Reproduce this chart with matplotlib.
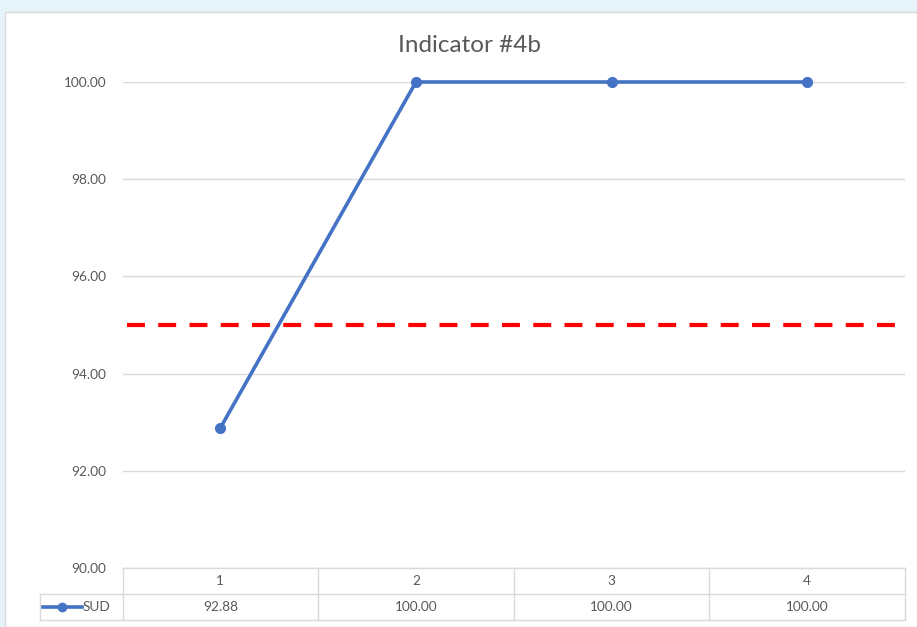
import matplotlib
matplotlib.use("Agg")
import matplotlib.pyplot as plt
from matplotlib.patches import Rectangle
from matplotlib.lines import Line2D

categories = ["1", "2", "3", "4"]
series_name = "SUD"
values = [92.88, 100.00, 100.00, 100.00]
target = 95.0
yticks = [90, 92, 94, 96, 98, 100]
title = "Indicator #4b"

W, H = 917, 627
fig = plt.figure(figsize=(W / 100, H / 100), dpi=100)
fig.patch.set_facecolor("#e6f4fa")

def fx(px):
    return px / W

def fy(py):
    return 1 - py / H

# white chart area
fig.patches.append(Rectangle((fx(5), 0), 1 - fx(5), fy(12), transform=fig.transFigure,
                             facecolor="white", edgecolor="#d9d9d9", linewidth=1.0, zorder=-5))

grey = "#595959"
font = "Lato"

left, right, top, bottom = 122.5, 905, 82, 568
ax = fig.add_axes([fx(left), fy(bottom), fx(right) - fx(left), fy(top) - fy(bottom)])
ax.set_zorder(1)
ax.set_facecolor("none")
x = list(range(len(categories)))
ax.set_xlim(-0.5, len(categories) - 0.5)
ax.set_ylim(90, 100)
ax.set_yticks(yticks)
ax.set_yticklabels([f"{v:.2f}" for v in yticks], fontsize=9.8, color=grey, family=font)
ax.tick_params(axis="y", length=0, pad=11.5)
ax.set_xticks([])
for s in ax.spines.values():
    s.set_visible(False)
ax.grid(axis="y", color="#d9d9d9", linewidth=1.0)
ax.set_axisbelow(True)

ax.axhline(target, xmin=0.006, xmax=0.992, color="#ff0000", linewidth=3.0,
           linestyle=(0, (4.3, 3.2)), zorder=2)
ax.plot(x, values, color="#4472c4", linewidth=2.6, marker="o", markersize=7,
        clip_on=False, zorder=3)

fig.text(fx(470), fy(45), title, ha="center", va="center", fontsize=17.5, color=grey,
         family=font)

# data table
tcolor = "#d9d9d9"
row1_top, row1_bot, row2_bot = 568, 594, 620
tab_left = 40
col_edges = [left + i * (right - left) / len(categories) for i in range(len(categories) + 1)]

def hline(y, x0, x1):
    fig.add_artist(Line2D([fx(x0), fx(x1)], [fy(y), fy(y)], color=tcolor, linewidth=1.0))

def vline(xp, y0, y1):
    fig.add_artist(Line2D([fx(xp), fx(xp)], [fy(y0), fy(y1)], color=tcolor, linewidth=1.0))

hline(row1_top, left, right)
hline(row1_bot, tab_left, right)
hline(row2_bot, tab_left, right)
vline(tab_left, row1_bot, row2_bot)
for i, xe in enumerate(col_edges):
    vline(xe, row1_top, row2_bot)

for i, cat in enumerate(categories):
    cx = (col_edges[i] + col_edges[i + 1]) / 2
    fig.text(fx(cx), fy((row1_top + row1_bot) / 2), cat, ha="center", va="center",
             fontsize=9.8, color=grey, family=font)
    fig.text(fx(cx), fy((row1_bot + row2_bot) / 2), f"{values[i]:.2f}", ha="center",
             va="center", fontsize=9.8, color=grey, family=font)

ly = fy((row1_bot + row2_bot) / 2)
fig.add_artist(Line2D([fx(43), fx(82)], [ly, ly], color="#4472c4", linewidth=2.6))
fig.add_artist(Line2D([fx(62)], [ly], color="#4472c4", marker="o", markersize=6))
fig.text(fx(83), ly, series_name, ha="left", va="center", fontsize=9.8, color=grey, family=font)

fig.savefig("out.png", dpi=100, facecolor=fig.get_facecolor())
